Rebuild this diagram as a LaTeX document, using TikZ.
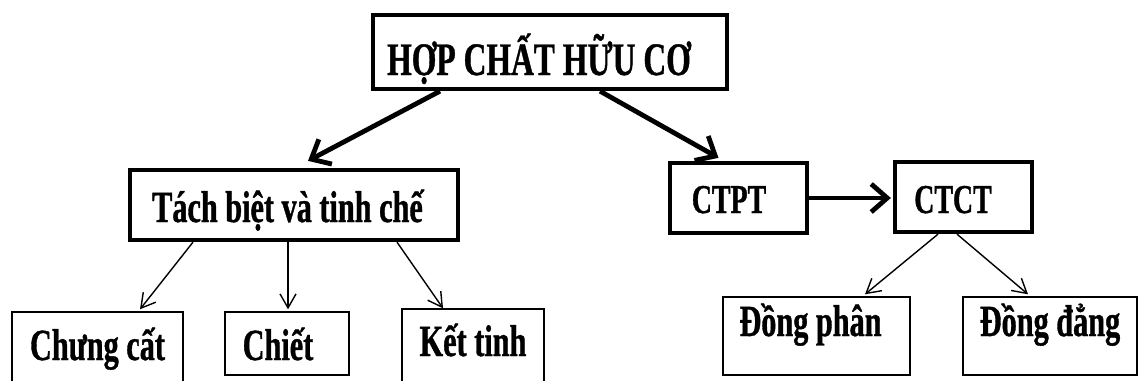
\documentclass[tikz,border=0pt]{standalone}
\usepackage{fontspec}
\newfontfamily\dfont{Liberation Serif}[FakeStretch=0.68, RawFeature={embolden=0.8}]
\newcommand\dgsize[1]{\dfont\bfseries\fontsize{#1}{#1}\selectfont}
\usetikzlibrary{arrows.meta}
\begin{document}
\begin{tikzpicture}[x=1pt,y=-1pt,
  box/.style={draw, line width=#1, inner sep=0pt, anchor=center, font=\dgsize{44.5}},
  thickbox/.style={box=4.3pt},
  thinbox/.style={box=1.4pt},
  bigarrow/.style={line width=4.8pt, -{Straight Barb[length=16pt,width=28pt]}},
  smallarrow/.style={line width=1.4pt, -{Straight Barb[length=14pt,width=16pt]}}]
\clip (0,0) rectangle (1139,380);
\fill[white] (0,0) rectangle (1139,380);
% boxes
\node[thickbox, minimum width=354pt, minimum height=74pt, text height=46pt, text depth=0pt, font=\dgsize{46.5}] (top) at (550,52) {\hspace*{-22pt}HỢP CHẤT HỮU CƠ};
\node[thickbox, minimum width=328pt, minimum height=70pt, text height=34pt, text depth=0pt] (tach) at (294,205) {\hspace*{-13pt}Tách biệt và tinh chế};
\node[thinbox, minimum width=171pt, minimum height=80pt, text height=16pt, text depth=0pt] (chung) at (97.5,352) {Chưng cất};
\node[thinbox, minimum width=124pt, minimum height=63pt, text height=33pt, text depth=0pt] (chiet) at (287,343.5) {\hspace*{-18pt}Chiết};
\node[thinbox, minimum width=142pt, minimum height=83pt, text height=11pt, text depth=0pt] (ket) at (473,350.5) {Kết tinh};
\node[thickbox, minimum width=137pt, minimum height=70pt, text height=30pt, text depth=0pt, font=\dgsize{41}] (ctpt) at (738.5,198) {\hspace*{-19pt}CTPT};
\node[thickbox, minimum width=137pt, minimum height=70pt, text height=32pt, text depth=0pt, font=\dgsize{41}] (ctct) at (963.5,197) {\hspace*{-21pt}CTCT};
\node[thinbox, minimum width=187pt, minimum height=78pt, text height=10pt, text depth=10pt] (dphan) at (816.5,336) {\hspace*{-12pt}Đồng phân};
\node[thinbox, minimum width=174pt, minimum height=78pt, text height=10pt, text depth=10pt] (ddang) at (1050,336) {Đồng đẳng};
% connectors
\draw[bigarrow] ([xshift=-110pt]top.south) -- ([xshift=14pt,yshift=7pt]tach.north);
\draw[bigarrow] ([xshift=50pt]top.south) -- ([xshift=-20pt,yshift=3pt]ctpt.north);
\draw[bigarrow] (ctpt.east) -- ([xshift=-2pt]ctpt.east -| ctct.west);
\draw[smallarrow] ([xshift=-101pt]tach.south) -- ([xshift=42.5pt,yshift=2pt]chung.north);
\draw[smallarrow] ([xshift=-6pt]tach.south) -- ([xshift=1pt,yshift=2pt]chiet.north);
\draw[smallarrow] ([xshift=103pt]tach.south) -- ([xshift=-30pt]ket.north);
\draw[smallarrow] ([xshift=-25.5pt]ctct.south) -- ([xshift=48.5pt,yshift=2pt]dphan.north);
\draw[smallarrow] ([xshift=-6.5pt]ctct.south) -- ([xshift=-22pt,yshift=2pt]ddang.north);
\end{tikzpicture}
\end{document}
